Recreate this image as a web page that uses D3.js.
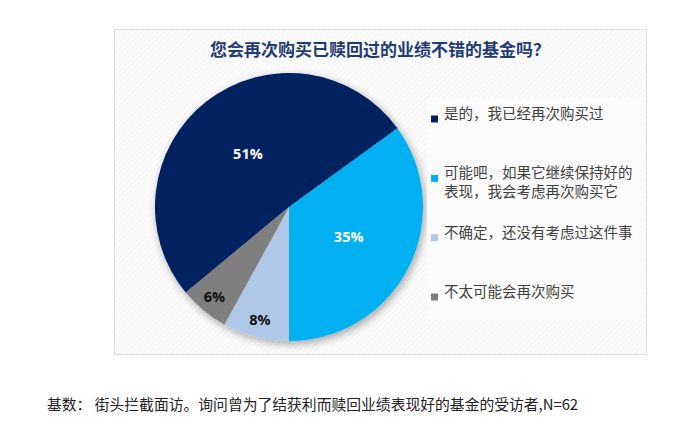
<!DOCTYPE html>
<html>
<head>
<meta charset="utf-8">
<script src="https://cdn.jsdelivr.net/npm/d3@7"></script>
<style>
  body { margin: 0; background: #fff; }
  svg { display: block; }
</style>
</head>
<body>
<svg width="700" height="434"></svg>
<script>
const title = '您会再次购买已赎回过的业绩不错的基金吗？'
const categories = ['是的，我已经再次购买过',
                    '可能吧，如果它继续保持好的表现，我会考虑再次购买它',
                    '不确定，还没有考虑过这件事',
                    '不太可能会再次购买']
const values = [51, 35, 8, 6]
const colors = ['#002060', '#00b0f0', '#b0c8e8', '#7f7f7f']
const labelColors = ['#fff', '#fff', '#111', '#111']
const footnote = '基数：  街头拦截面访。询问曾为了结获利而赎回业绩表现好的基金的受访者,N=62'

const cjk = '"Noto Sans CJK SC", "Noto Sans", sans-serif'
const svg = d3.select('svg')
const defs = svg.append('defs')

// diagonal hatch used by the chart area
const pat = defs.append('pattern')
  .attr('id', 'hatch')
  .attr('width', 4).attr('height', 4)
  .attr('patternUnits', 'userSpaceOnUse')
  .attr('patternTransform', 'rotate(45)')
pat.append('rect').attr('width', 4).attr('height', 4).attr('fill', '#f7f7f7')
pat.append('rect').attr('width', 2).attr('height', 4).attr('fill', '#fcfcfc')

const shadow = defs.append('filter').attr('id', 'shadow')
  .attr('x', '-20%').attr('y', '-20%').attr('width', '140%').attr('height', '140%')
shadow.append('feDropShadow')
  .attr('dx', 2).attr('dy', 3).attr('stdDeviation', 4)
  .attr('flood-color', '#000').attr('flood-opacity', 0.35)

// chart frame
svg.append('rect')
  .attr('x', 114.5).attr('y', 29.5)
  .attr('width', 532).attr('height', 325)
  .attr('fill', 'url(#hatch)')
  .attr('stroke', '#dcdcdc')

svg.append('text')
  .attr('x', 380).attr('y', 56)
  .attr('text-anchor', 'middle')
  .attr('font-family', cjk)
  .attr('font-size', 17)
  .attr('font-weight', 'bold')
  .attr('fill', '#1f3b73')
  .text(title)

// pie
const cx = 289, cy = 207, radius = 134
const start = Math.PI - 2 * Math.PI * (values[0] + values[1]) / d3.sum(values)
const pie = d3.pie().sort(null)
  .startAngle(start).endAngle(start + 2 * Math.PI)
const arc = d3.arc().innerRadius(0).outerRadius(radius)

const pieG = svg.append('g').attr('transform', `translate(${cx},${cy})`)
const arcs = pie(values)

pieG.append('g').attr('filter', 'url(#shadow)')
  .selectAll('path').data(arcs).enter()
  .append('path')
  .attr('d', arc)
  .attr('fill', (d, i) => colors[i])

// big slices get labels nearer the centre, small ones near the rim
const innerLabel = d3.arc().innerRadius(67).outerRadius(67)
const outerLabel = d3.arc().innerRadius(117).outerRadius(117)

pieG.selectAll('text.pct').data(arcs).enter()
  .append('text')
  .attr('class', 'pct')
  .attr('transform', d => `translate(${(d.data >= 10 ? innerLabel : outerLabel).centroid(d)})`)
  .attr('text-anchor', 'middle')
  .attr('dy', '0.35em')
  .attr('font-family', '"Open Sans", "Noto Sans", sans-serif')
  .attr('font-size', 14.5)
  .attr('font-weight', 'bold')
  .attr('fill', (d, i) => labelColors[i])
  .text(d => d.data + '%')

// legend
svg.append('rect')
  .attr('x', 427).attr('y', 98)
  .attr('width', 215).attr('height', 222)
  .attr('fill', '#fcfcfc')

const legendY = d3.scaleLinear().domain([0, 3]).range([119, 297])
const maxWidth = 196

const items = svg.selectAll('g.legend').data(categories).enter()
  .append('g')
  .attr('class', 'legend')
  .attr('transform', (d, i) => `translate(0,${legendY(i)})`)

items.append('rect')
  .attr('x', 431).attr('y', -3.5)
  .attr('width', 7).attr('height', 7)
  .attr('fill', (d, i) => colors[i])

items.each(function (d) {
  const t = d3.select(this).append('text')
    .attr('x', 444)
    .attr('dy', '0.35em')
    .attr('font-family', cjk)
    .attr('font-size', 14.5)
    .attr('fill', '#404040')
  // wrap one character at a time
  let line = ''
  let tspan = t.append('tspan').attr('x', 444).attr('dy', 0)
  for (const ch of d) {
    tspan.text(line + ch)
    if (tspan.node().getComputedTextLength() > maxWidth && line) {
      tspan.text(line)
      line = ch
      tspan = t.append('tspan').attr('x', 444).attr('dy', 19).text(ch)
    } else {
      line += ch
    }
  }
})

svg.append('text')
  .attr('x', 47).attr('y', 410)
  .attr('font-family', cjk)
  .attr('font-size', 14.8)
  .attr('fill', '#222')
  .text(footnote)
</script>
</body>
</html>
